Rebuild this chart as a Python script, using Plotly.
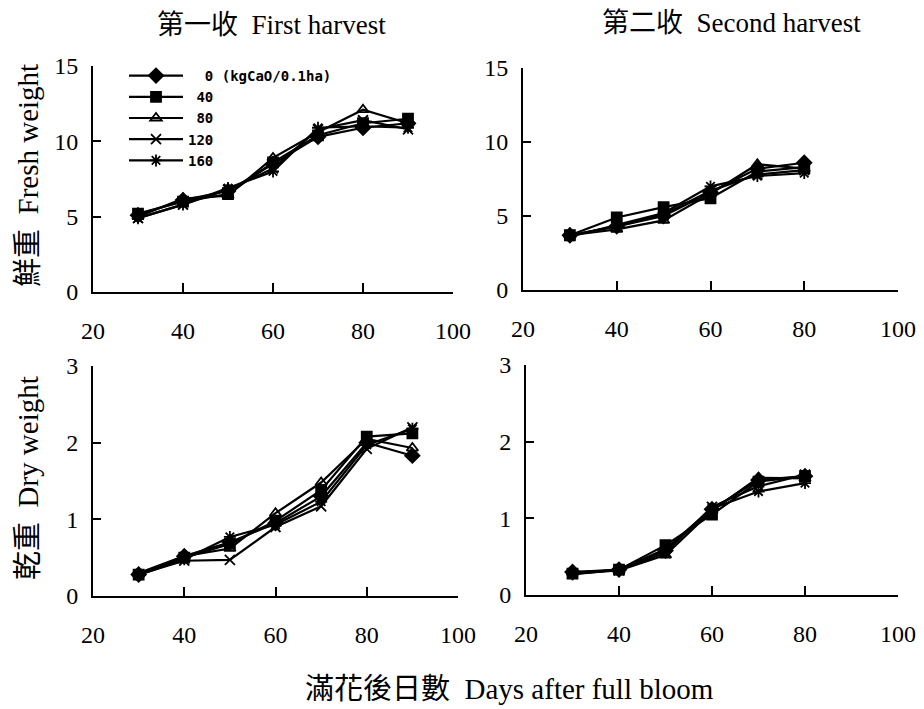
import plotly.graph_objects as go

# The page shows the figure offset by the default body margin (8 px),
# so layout positions below are given in reference pixels and shifted.
OFF = 8
W, H = 916, 701

rates = ["0", "40", "80", "120", "160"]
legend_names = ["\u00a0\u00a00 (kgCaO/0.1ha)", "\u00a040", "\u00a080", "120", "160"]
symbols = ["diamond", "square", "triangle-up-open", "x-thin-open", "asterisk-open"]

days_first = [30, 40, 50, 60, 70, 80, 90]
days_second = [30, 40, 50, 60, 70, 80]

fresh_first = {
    "0":   [5.1, 6.1, 6.7, 8.5, 10.3, 10.9, 11.2],
    "40":  [5.2, 6.0, 6.5, 8.6, 10.4, 11.2, 11.5],
    "80":  [5.0, 6.2, 6.4, 8.9, 10.6, 12.1, 11.2],
    "120": [4.9, 5.8, 6.8, 8.2, 10.8, 11.4, 10.8],
    "160": [4.9, 5.8, 6.9, 8.0, 10.9, 11.0, 10.9],
}
fresh_second = {
    "0":   [3.7, 4.3, 5.0, 6.6, 8.2, 8.6],
    "40":  [3.7, 4.9, 5.6, 6.2, 8.0, 8.3],
    "80":  [3.7, 4.1, 4.7, 6.5, 8.5, 8.2],
    "120": [3.7, 4.3, 5.1, 6.7, 7.8, 8.1],
    "160": [3.6, 4.4, 5.2, 7.0, 7.7, 7.9],
}
dry_first = {
    "0":   [0.28, 0.52, 0.70, 0.95, 1.30, 2.00, 1.83],
    "40":  [0.28, 0.50, 0.68, 0.98, 1.38, 2.08, 2.12],
    "80":  [0.30, 0.52, 0.62, 1.08, 1.48, 2.05, 1.93],
    "120": [0.28, 0.46, 0.47, 0.90, 1.17, 1.92, 2.20],
    "160": [0.27, 0.48, 0.77, 0.93, 1.23, 1.97, 2.18],
}
dry_second = {
    "0":   [0.30, 0.33, 0.58, 1.12, 1.50, 1.55],
    "40":  [0.28, 0.33, 0.65, 1.05, 1.48, 1.55],
    "80":  [0.30, 0.32, 0.52, 1.10, 1.53, 1.52],
    "120": [0.28, 0.32, 0.55, 1.15, 1.42, 1.57],
    "160": [0.27, 0.33, 0.60, 1.13, 1.35, 1.46],
}

x_ticks = [20, 40, 60, 80, 100]
fresh_ticks = [0, 5, 10, 15]
dry_ticks = [0, 1, 2, 3]

SERIF = "Liberation Serif, Times New Roman, serif"
CJK = "Liberation Serif, Noto Sans CJK TC, serif"

def fx(p):
    return (p - OFF) / W

def fy(p):
    return 1 - (p - OFF) / H

panels = [
    ("x", "y", (93, 453), (66, 292), days_first, fresh_first, fresh_ticks, [0, 15], True),
    ("x2", "y2", (523, 898), (68, 290), days_second, fresh_second, fresh_ticks, [0, 15], False),
    ("x3", "y3", (93, 458), (366, 596), days_first, dry_first, dry_ticks, [0, 3], False),
    ("x4", "y4", (526, 898), (365, 595), days_second, dry_second, dry_ticks, [0, 3], False),
]

fig = go.Figure()
layout = {}
for xa, ya, xpx, ypx, days, data, yt, yr, sl in panels:
    for r, nm, sym in zip(rates, legend_names, symbols):
        fig.add_trace(go.Scatter(
            x=days, y=data[r], xaxis=xa, yaxis=ya,
            mode="lines+markers", name=nm, showlegend=sl,
            line=dict(color="black", width=2.2),
            marker=dict(symbol=sym, size=11 if sym == "diamond" else 10,
                        color="black", line=dict(color="black", width=1.8)),
        ))
    xk = "xaxis" + xa[1:]
    yk = "yaxis" + ya[1:]
    layout[xk] = dict(
        domain=[fx(xpx[0]), fx(xpx[1])], range=[20, 100], tickvals=x_ticks,
        showline=True, linecolor="black", linewidth=2, mirror=False,
        ticks="inside", ticklen=9, tickwidth=2, tickcolor="black",
        showgrid=False, zeroline=False, anchor=ya, automargin=False,
        tickfont=dict(family=SERIF, size=24, color="black"),
        ticklabelstandoff=16,
    )
    layout[yk] = dict(
        domain=[fy(ypx[1]), fy(ypx[0])], range=yr, tickvals=yt,
        showline=True, linecolor="black", linewidth=2,
        ticks="inside", ticklen=8, tickwidth=2, tickcolor="black",
        showgrid=False, zeroline=False, anchor=xa, automargin=False,
        tickfont=dict(family=SERIF, size=24, color="black"),
        ticklabelstandoff=8,
    )

fig.update_layout(**layout)

annotations = [
    dict(text="第一收\u00a0\u00a0First harvest", x=fx(271), y=fy(25), size=27),
    dict(text="第二收\u00a0\u00a0Second harvest", x=fx(731), y=fy(23), size=27),
    dict(text="滿花後日數\u00a0\u00a0Days after full bloom", x=fx(509), y=fy(689), size=29),
    dict(text="鮮重\u00a0\u00a0Fresh weight", x=fx(28), y=fy(176), size=29, textangle=-90),
    dict(text="乾重\u00a0\u00a0Dry weight", x=fx(28), y=fy(478), size=29, textangle=-90),
]
for a in annotations:
    s = a.pop("size")
    a.update(xref="paper", yref="paper", showarrow=False, xanchor="center", yanchor="middle",
             font=dict(family=CJK, size=s, color="black"))

fig.update_layout(
    width=W, height=H,
    margin=dict(l=0, r=0, t=0, b=0, autoexpand=False),
    paper_bgcolor="white", plot_bgcolor="white",
    annotations=annotations,
    showlegend=True,
    legend=dict(
        x=fx(124), y=fy(60), xanchor="left", yanchor="top",
        bgcolor="rgba(0,0,0,0)", borderwidth=0,
        font=dict(family="DejaVu Sans Mono, monospace", size=14, color="black", weight="bold"),
        itemwidth=54, tracegroupgap=0,
    ),
)

fig.write_html("out.html")
